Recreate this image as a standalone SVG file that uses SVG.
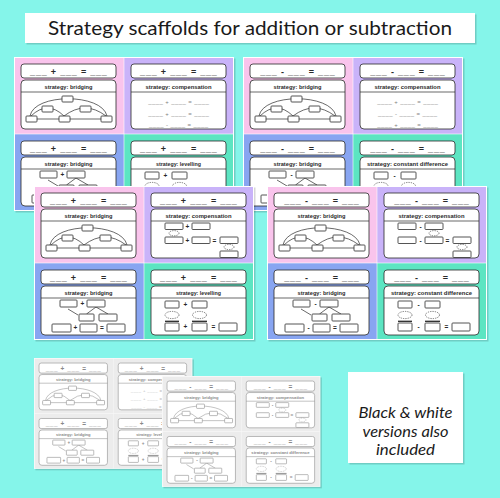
<svg xmlns="http://www.w3.org/2000/svg" width="500" height="498" viewBox="0 0 500 498">
<defs>
<style>
.bx{fill:#fff;stroke:currentColor;stroke-width:0.8}
.ln{fill:none;stroke:currentColor;stroke-width:0.7}
.thk{fill:none;stroke:currentColor;stroke-width:1.3}
.ds{fill:#fff;stroke:currentColor;stroke-width:0.6;stroke-dasharray:1.3 1}
.eq{font-family:"Liberation Sans",Arial,sans-serif;font-size:9px;font-weight:bold;letter-spacing:0.8px;fill:currentColor;text-anchor:middle}
.hd{font-family:"Liberation Sans",Arial,sans-serif;font-size:6px;font-weight:bold;fill:currentColor;text-anchor:middle}
.sg{font-family:"Liberation Sans",Arial,sans-serif;font-size:6.5px;font-weight:bold;fill:currentColor;text-anchor:middle}
.tl{font-family:"Liberation Sans",Arial,sans-serif;font-size:6px;letter-spacing:0.4px;fill:currentColor;opacity:.6;text-anchor:middle}
.sh{fill:#000;opacity:.16}
.ttl{font-family:"Lato","Liberation Sans",sans-serif;font-size:20px;fill:#1a1a1a;text-anchor:middle}
.note{font-family:"Lato","Liberation Sans",sans-serif;font-size:16px;font-style:italic;fill:#1a1a1a;text-anchor:middle}
</style>

<g id="frame">
<rect class="bx" x="7" y="7" width="95" height="14" rx="3"/>
<rect class="bx" x="7" y="23" width="95" height="49" rx="4"/>
<line class="ln" x1="7" y1="35" x2="102" y2="35"/>
</g>
<g id="eqp"><use href="#frame"/><text class="eq" x="54.9" y="18">___ + ___ = ___</text></g>
<g id="eqm"><use href="#frame"/><text class="eq" x="54.9" y="18">___ - ___ = ___</text></g>

<g id="arc">
<text class="hd" x="54.5" y="31.5" textLength="48" lengthAdjust="spacingAndGlyphs">strategy: bridging</text>
<line class="ln" x1="12" y1="62" x2="98" y2="62"/>
<path class="ln" d="M17,59 Q33.5,43 50,59 M50,59 Q71,43 92,59 M16,59 C20,36 88,36 93,59"/>
<rect class="bx" x="12" y="59" width="11" height="6" rx="0.8"/>
<rect class="bx" x="45" y="59" width="11" height="6" rx="0.8"/>
<rect class="bx" x="87" y="59" width="11" height="6" rx="0.8"/>
<rect class="bx" x="28" y="49" width="11" height="6" rx="0.8"/>
<rect class="bx" x="66" y="49" width="11" height="6" rx="0.8"/>
<rect class="bx" x="48" y="39" width="11" height="6" rx="0.8"/>
</g>

<g id="compL1">
<text class="hd" x="54.5" y="31.5" textLength="66" lengthAdjust="spacingAndGlyphs">strategy: compensation</text>
<text class="tl" x="54.7" y="47">____ + ____ = ____</text>
<text class="tl" x="54.7" y="58.5">____ + ____ = ____</text>
<text class="tl" x="54.7" y="70">____ - ____ = ____</text>
</g>
<g id="compL2">
<text class="hd" x="54.5" y="31.5" textLength="66" lengthAdjust="spacingAndGlyphs">strategy: compensation</text>
<text class="tl" x="54.7" y="47">____ + ____ = ____</text>
<text class="tl" x="54.7" y="58.5">____ - ____ = ____</text>
<text class="tl" x="54.7" y="70">____ + ____ = ____</text>
</g>

<g id="compBase">
<text class="hd" x="54.5" y="31.5" textLength="66" lengthAdjust="spacingAndGlyphs">strategy: compensation</text>
<rect class="bx" x="21" y="37" width="18" height="6.5" rx="0.8"/>
<rect class="bx" x="48" y="37" width="18" height="6.5" rx="0.8"/>
<rect class="bx" x="21" y="51" width="18" height="6.5" rx="0.8"/>
<rect class="bx" x="48" y="51" width="18" height="6.5" rx="0.8"/>
<rect class="bx" x="76" y="51" width="18" height="6.5" rx="0.8"/>
<text class="sg" x="70.5" y="56.5">=</text>
<ellipse class="ds" cx="85" cy="61" rx="5" ry="2.6"/>
<rect class="bx" x="76" y="65" width="18" height="6.5" rx="0.8"/>
</g>
<g id="compP">
<use href="#compBase"/>
<text class="sg" x="43.5" y="42.5">+</text>
<text class="sg" x="43.5" y="56.5">+</text>
<ellipse class="ds" cx="30" cy="47.2" rx="5" ry="2.6"/>
</g>
<g id="compM">
<use href="#compBase"/>
<text class="sg" x="43.5" y="42.5">-</text>
<text class="sg" x="43.5" y="56.5">-</text>
<ellipse class="ds" cx="57" cy="47.2" rx="5" ry="2.6"/>
</g>

<g id="treeBase">
<text class="hd" x="54.5" y="31.5" textLength="48" lengthAdjust="spacingAndGlyphs">strategy: bridging</text>
<path class="ln" d="M62,44 L52.5,51 M62,44 L74,51 M34,46 L44,52"/>
<rect class="bx" x="26" y="37" width="17" height="7" rx="0.8"/>
<rect class="bx" x="53" y="37" width="18" height="7" rx="0.8"/>
<rect class="bx" x="45" y="51" width="15" height="7" rx="0.8"/>
<rect class="bx" x="65" y="51" width="18" height="7" rx="0.8"/>
<rect class="bx" x="18" y="61" width="19" height="8" rx="0.8"/>
<rect class="bx" x="46" y="61" width="17" height="8" rx="0.8"/>
<text class="sg" x="68" y="67">=</text>
<rect class="bx" x="73" y="61" width="18" height="8" rx="0.8"/>
</g>
<g id="treeP"><use href="#treeBase"/><text class="sg" x="48.5" y="42.5">+</text><text class="sg" x="41.5" y="67">+</text></g>
<g id="treeM"><use href="#treeBase"/><text class="sg" x="48.5" y="42.5">-</text><text class="sg" x="41.5" y="67">-</text></g>

<g id="levBase">
<rect class="bx" x="21" y="38" width="14" height="7" rx="0.8"/>
<rect class="bx" x="48" y="38" width="15" height="7" rx="0.8"/>
<ellipse class="ds" cx="28" cy="52" rx="7" ry="3.6"/>
<ellipse class="ds" cx="55.5" cy="52" rx="7" ry="3.6"/>
<line class="thk" x1="21" y1="58.3" x2="35" y2="58.3"/>
<line class="thk" x1="48" y1="58.3" x2="63" y2="58.3"/>
<rect class="bx" x="21" y="60" width="14" height="8" rx="0.8"/>
<rect class="bx" x="48" y="60" width="15" height="8" rx="0.8"/>
<text class="sg" x="69.5" y="66">=</text>
<rect class="bx" x="75" y="60" width="18" height="8" rx="0.8"/>
</g>
<g id="levP"><use href="#levBase"/>
<text class="hd" x="54.5" y="31.5" textLength="45" lengthAdjust="spacingAndGlyphs">strategy: levelling</text>
<text class="sg" x="41.5" y="43.5">+</text><text class="sg" x="41.5" y="66">+</text></g>
<g id="conM"><use href="#levBase"/>
<text class="hd" x="54.5" y="31.5" textLength="81" lengthAdjust="spacingAndGlyphs">strategy: constant difference</text>
<text class="sg" x="41.5" y="43.5">-</text><text class="sg" x="41.5" y="66">-</text></g>

<g id="bgC">
<rect class="sh" x="1.5" y="1.5" width="220" height="154"/>
<rect x="0" y="0" width="220" height="154" fill="#fff"/>
<rect x="1" y="1" width="108.7" height="75.7" fill="#f9c4ec"/>
<rect x="110.3" y="1" width="108.7" height="75.7" fill="#c9b3f9"/>
<rect x="1" y="77.3" width="108.7" height="75.7" fill="#88a5f1"/>
<rect x="110.3" y="77.3" width="108.7" height="75.7" fill="#5ce5c2"/>
</g>
<g id="bgG">
<rect class="sh" x="2" y="2" width="220" height="154"/>
<rect x="0" y="0" width="220" height="154" fill="#fbfbfb"/>
<rect x="1" y="1" width="108.7" height="75.7" fill="#ececec"/>
<rect x="110.3" y="1" width="108.7" height="75.7" fill="#ececec"/>
<rect x="1" y="77.3" width="108.7" height="75.7" fill="#ececec"/>
<rect x="110.3" y="77.3" width="108.7" height="75.7" fill="#ececec"/>
</g>

<g id="cA">
<use href="#eqp"/><use href="#arc"/>
<g transform="translate(110,0)"><use href="#eqp"/><use href="#compL1"/></g>
<g transform="translate(0,77)"><use href="#eqp"/><use href="#treeP"/></g>
<g transform="translate(110,77)"><use href="#eqp"/><use href="#levP"/></g>
</g>
<g id="cB">
<use href="#eqm"/><use href="#arc"/>
<g transform="translate(110,0)"><use href="#eqm"/><use href="#compL2"/></g>
<g transform="translate(0,77)"><use href="#eqm"/><use href="#treeM"/></g>
<g transform="translate(110,77)"><use href="#eqm"/><use href="#conM"/></g>
</g>
<g id="cC">
<use href="#eqp"/><use href="#arc"/>
<g transform="translate(110,0)"><use href="#eqp"/><use href="#compP"/></g>
<g transform="translate(0,77)"><use href="#eqp"/><use href="#treeP"/></g>
<g transform="translate(110,77)"><use href="#eqp"/><use href="#levP"/></g>
</g>
<g id="cD">
<use href="#eqm"/><use href="#arc"/>
<g transform="translate(110,0)"><use href="#eqm"/><use href="#compM"/></g>
<g transform="translate(0,77)"><use href="#eqm"/><use href="#treeM"/></g>
<g transform="translate(110,77)"><use href="#eqm"/><use href="#conM"/></g>
</g>
</defs>

<rect x="0" y="0" width="500" height="498" fill="#85f5ea"/>

<g id="title">
<rect class="sh" x="26.5" y="14.5" width="450" height="30"/>
<rect x="25" y="13" width="450" height="30" fill="#fff"/>
<text class="ttl" x="250" y="34.5" textLength="404" lengthAdjust="spacingAndGlyphs">Strategy scaffolds for addition or subtraction</text>
</g>

<g id="card-add-1" transform="translate(14,57)" style="color:#2a2a2a"><use href="#bgC"/><use href="#cA"/></g>
<g id="card-sub-1" transform="translate(243,57)" style="color:#2a2a2a"><use href="#bgC"/><use href="#cB"/></g>
<g id="card-add-2" transform="translate(34,186)" style="color:#2a2a2a"><use href="#bgC"/><use href="#cC"/></g>
<g id="card-sub-2" transform="translate(267,186)" style="color:#2a2a2a"><use href="#bgC"/><use href="#cD"/></g>

<g id="bw-add" transform="translate(34,358) scale(0.72)" style="color:#8a8a8a"><use href="#bgG"/><use href="#cA"/></g>
<g id="bw-sub" transform="translate(162,376) scale(0.72)" style="color:#8a8a8a"><use href="#bgG"/><use href="#cD"/></g>

<g id="note">
<rect class="sh" x="349.5" y="373.5" width="115" height="91"/>
<rect x="348" y="372" width="115" height="91" fill="#fff"/>
<text class="note" x="405.5" y="418" textLength="94" lengthAdjust="spacingAndGlyphs">Black &amp; white</text>
<text class="note" x="405.5" y="437" textLength="86" lengthAdjust="spacingAndGlyphs">versions also</text>
<text class="note" x="405.5" y="455" textLength="59" lengthAdjust="spacingAndGlyphs">included</text>
</g>
</svg>
